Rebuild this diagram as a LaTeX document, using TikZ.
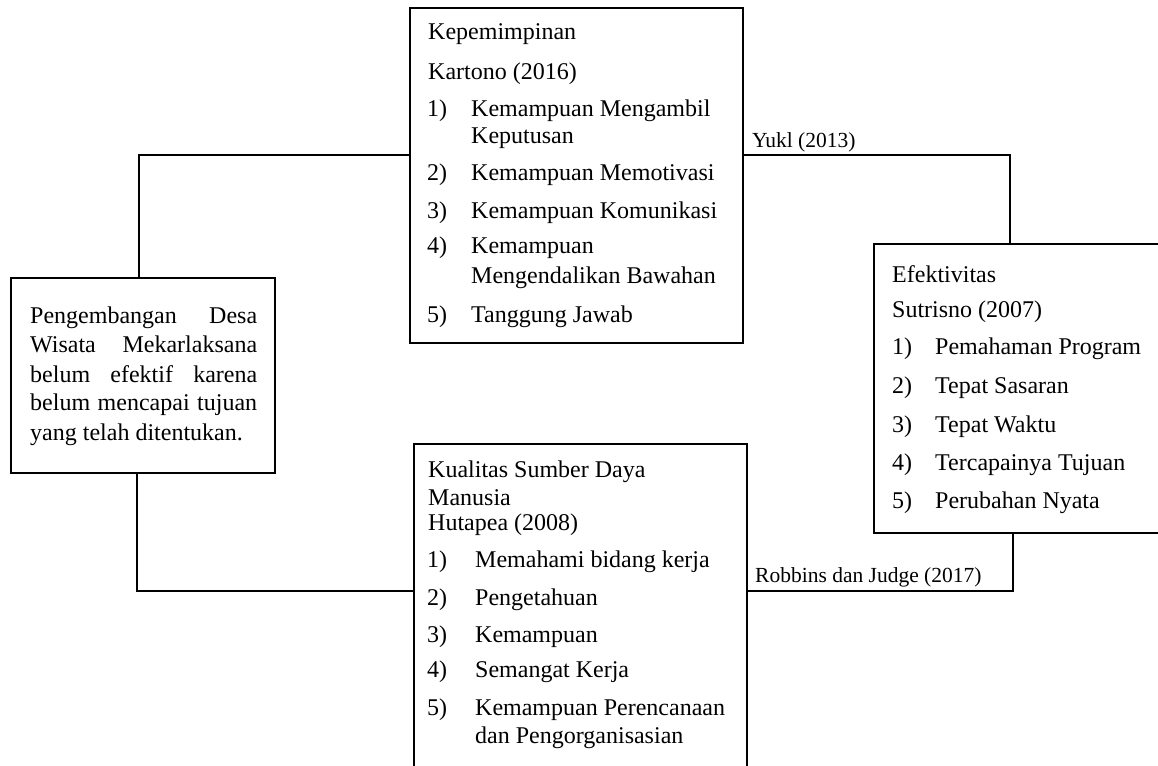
\documentclass[tikz,border=0pt]{standalone}
\usepackage{fontspec}
\setmainfont{Liberation Serif}
\newcommand\numit[3]{\makebox[#1][l]{#2}#3}
\begin{document}
\begin{tikzpicture}[x=1pt,y=-1pt,
  box/.style={draw, line width=1.6pt, rectangle, inner sep=0pt, anchor=north west},
  txt/.style={anchor=base west, inner sep=0pt, font=\fontsize{24}{29}\selectfont},
  lbl/.style={anchor=base west, inner sep=0pt, font=\fontsize{21.5}{26}\selectfont},
  conn/.style={line width=1.6pt}]
\useasboundingbox (0,0) rectangle (1158,765);
\clip (0,0) rectangle (1158,765);
% boxes
\node[box, minimum width=333pt, minimum height=335pt] (top) at (409,7) {};
\node[box, minimum width=264pt, minimum height=195pt] (left) at (10,277) {};
\node[box, minimum width=300pt, minimum height=289pt] (right) at (873,243) {};
\node[box, minimum width=333pt, minimum height=347pt] (bot) at (413,443) {};
% connector corners
\coordinate (c1) at (139,155);
\coordinate (c2) at (1010,155);
\coordinate (c3) at (137,591);
\coordinate (c4) at (1013,591);
\draw[conn] (top.west |- c1) -- (c1) -- (c1 |- left.north);
\draw[conn] (top.east |- c2) -- (c2) -- (c2 |- right.north);
\draw[conn] (c3 |- left.south) -- (c3) -- (c3 -| bot.west);
\draw[conn] (c4 |- right.south) -- (c4) -- (c4 -| bot.east);
% connector labels
\node[lbl] (yukl) at (752,147) {Yukl (2013)};
\node[lbl] (robb) at (755,582) {Robbins dan Judge (2017)};
% top box text
\node[txt] (t1) at (428,40) {Kepemimpinan};
\node[txt] (t2) at (428,80) {Kartono (2016)};
\node[txt] (t3) at (427,117) {\numit{44pt}{1)}{Kemampuan Mengambil}};
\node[txt] (t4) at (471,143) {Keputusan};
\node[txt] (t5) at (427,180) {\numit{44pt}{2)}{Kemampuan Memotivasi}};
\node[txt] (t6) at (427,218) {\numit{44pt}{3)}{Kemampuan Komunikasi}};
\node[txt] (t7) at (427,253) {\numit{44pt}{4)}{Kemampuan}};
\node[txt] (t8) at (471,283) {Mengendalikan Bawahan};
\node[txt] (t9) at (427,322) {\numit{44pt}{5)}{Tanggung Jawab}};
% left box text
\node[txt] (l1) at (30,323) {\makebox[227pt][s]{Pengembangan Desa}};
\node[txt] (l2) at (30,352) {\makebox[227pt][s]{Wisata Mekarlaksana}};
\node[txt] (l3) at (30,382) {\makebox[227pt][s]{belum efektif karena}};
\node[txt] (l4) at (30,410) {\makebox[227pt][s]{belum mencapai tujuan}};
\node[txt] (l5) at (30,440) {yang telah ditentukan.};
% right box text
\node[txt] (r1) at (892,282) {Efektivitas};
\node[txt] (r2) at (892,317) {Sutrisno (2007)};
\node[txt] (r3) at (892,354) {\numit{43pt}{1)}{Pemahaman Program}};
\node[txt] (r4) at (892,393) {\numit{43pt}{2)}{Tepat Sasaran}};
\node[txt] (r5) at (892,432) {\numit{43pt}{3)}{Tepat Waktu}};
\node[txt] (r6) at (892,470) {\numit{43pt}{4)}{Tercapainya Tujuan}};
\node[txt] (r7) at (892,508) {\numit{43pt}{5)}{Perubahan Nyata}};
% bottom box text
\node[txt] (b1) at (428,477) {Kualitas Sumber Daya};
\node[txt] (b2) at (428,505) {Manusia};
\node[txt] (b3) at (428,530) {Hutapea (2008)};
\node[txt] (b4) at (427,567) {\numit{48pt}{1)}{Memahami bidang kerja}};
\node[txt] (b5) at (427,605) {\numit{48pt}{2)}{Pengetahuan}};
\node[txt] (b6) at (427,642) {\numit{48pt}{3)}{Kemampuan}};
\node[txt] (b7) at (427,677) {\numit{48pt}{4)}{Semangat Kerja}};
\node[txt] (b8) at (427,715) {\numit{48pt}{5)}{Kemampuan Perencanaan}};
\node[txt] (b9) at (475,743) {dan Pengorganisasian};
\end{tikzpicture}
\end{document}
